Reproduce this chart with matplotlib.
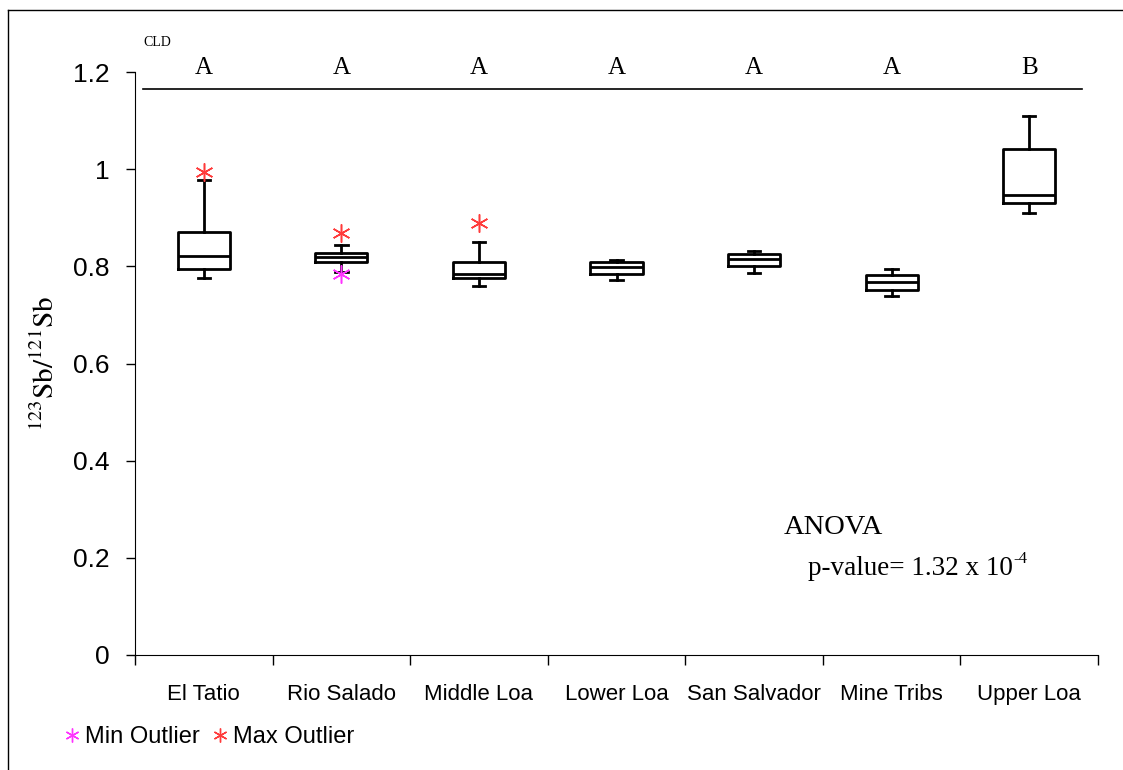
import matplotlib
matplotlib.use("Agg")
import matplotlib.pyplot as plt
from matplotlib.lines import Line2D

sites = ["El Tatio", "Rio Salado", "Middle Loa", "Lower Loa", "San Salvador", "Mine Tribs", "Upper Loa"]
whislo = [0.777, 0.788, 0.760, 0.771, 0.786, 0.739, 0.910]
q1 = [0.795, 0.809, 0.777, 0.784, 0.800, 0.751, 0.930]
med = [0.821, 0.819, 0.784, 0.799, 0.815, 0.768, 0.947]
q3 = [0.870, 0.827, 0.808, 0.808, 0.825, 0.782, 1.042]
whishi = [0.978, 0.843, 0.851, 0.813, 0.832, 0.795, 1.110]
cld = ["A", "A", "A", "A", "A", "A", "B"]
# outliers: (site index, value)
max_out = [(0, 0.995), (1, 0.868), (2, 0.889)]
min_out = [(1, 0.784)]

plt.rcParams['mathtext.fontset'] = 'stix'
fig = plt.figure(figsize=(11.23, 7.70), dpi=100)
ax = fig.add_axes([135/1123, 1-655/770, 963/1123, 583/770])

stats = []
for i in range(len(sites)):
    stats.append(dict(whislo=whislo[i], q1=q1[i], med=med[i], q3=q3[i], whishi=whishi[i], fliers=[]))
pos = list(range(1, len(sites)+1))
ax.bxp(stats, positions=pos, widths=0.38, capwidths=0.09, showfliers=False,
       boxprops=dict(color='black', linewidth=2.0),
       medianprops=dict(color='black', linewidth=2.0),
       whiskerprops=dict(color='black', linewidth=2.0),
       capprops=dict(color='black', linewidth=2.0))

red = '#ff3b3b'
mag = '#ff33ff'
ax.plot([pos[i] for i, v in max_out], [v for i, v in max_out], linestyle='none',
        marker=(6, 2, 0), markersize=13, color=red, markeredgewidth=1.1, zorder=5)
ax.plot([pos[i] for i, v in min_out], [v for i, v in min_out], linestyle='none',
        marker=(6, 2, 0), markersize=13, color=mag, markeredgewidth=1.1, zorder=5)

ax.set_xlim(0.5, len(sites)+0.5)
ax.set_ylim(0, 1.2)
ax.set_yticks([0, 0.2, 0.4, 0.6, 0.8, 1.0, 1.2])
ax.set_yticklabels(["0", "0.2", "0.4", "0.6", "0.8", "1", "1.2"])
ax.set_xticks([p - 0.5 for p in pos] + [len(sites)+0.5])
ax.set_xticklabels([])
ax.set_xticks(pos, minor=True)
ax.set_xticklabels(sites, minor=True, fontsize=16, family='Liberation Sans')
ax.tick_params(axis='x', which='major', direction='out', length=7, width=1)
ax.tick_params(axis='x', which='minor', length=0, pad=21)
ax.tick_params(axis='y', direction='out', length=6.5, width=1, pad=12, labelsize=19)
for lab in ax.get_yticklabels():
    lab.set_family('Liberation Sans')
for s in ['top', 'right']:
    ax.spines[s].set_visible(False)

ax.set_ylabel(r'$^{123}\mathrm{Sb}/^{121}\mathrm{Sb}$', fontsize=21)
ax.yaxis.set_label_coords(-0.078, 0.5)

ax.axhline(1.165, xmin=0.008, xmax=0.983, color='black', linewidth=1.2)
for i, c in enumerate(cld):
    ax.text(pos[i], 1.208, c, ha='center', va='center', fontsize=18,
            family='Liberation Serif', clip_on=False)
ax.text(0.56, 1.26, "CLD", ha='left', va='center', fontsize=10,
        family='Liberation Serif', clip_on=False)

ax.text(5.217, 0.263, "ANOVA", ha='left', va='center', fontsize=20.5, family='Liberation Serif')
pv = ax.text(5.392, 0.179, "p-value= 1.32 x 10", ha='left', va='center',
             fontsize=19.5, family='Liberation Serif')
ax.annotate("-4", xy=(1, 1), xycoords=pv, xytext=(0.5, 3), textcoords='offset points',
            ha='left', va='top', fontsize=12, family='Liberation Serif')

h1 = Line2D([], [], linestyle='none', marker=(6, 2, 0), markersize=10, color=mag, markeredgewidth=1.0)
h2 = Line2D([], [], linestyle='none', marker=(6, 2, 0), markersize=10, color=red, markeredgewidth=1.0)
fig.legend([h1, h2], ["Min Outlier", "Max Outlier"], loc='center left',
           bbox_to_anchor=(0.058, 0.043), ncol=2, frameon=False, handlelength=0.6,
           handletextpad=0.25, columnspacing=0.55, borderaxespad=0, borderpad=0,
           prop=dict(family='Liberation Sans', size=17))

fig.add_artist(Line2D([8/1123, 8/1123], [0, 1-10/770], transform=fig.transFigure, color='black', linewidth=1))
fig.add_artist(Line2D([8/1123, 1], [1-10/770, 1-10/770], transform=fig.transFigure, color='black', linewidth=1))

fig.savefig("out.png", dpi=100)
